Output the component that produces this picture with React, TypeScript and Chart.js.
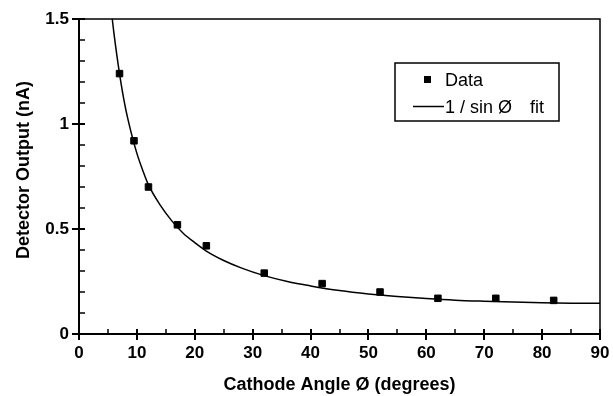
import React, { useEffect, useRef } from "react";
import { Chart, registerables } from "chart.js";

Chart.register(...registerables);

// Measured data points
const dataAngles = [7, 9.5, 12, 17, 22, 32, 42, 52, 62, 72, 82];
const dataOutput = [1.24, 0.92, 0.7, 0.52, 0.42, 0.29, 0.24, 0.2, 0.17, 0.17, 0.16];

// Fit curve
const fitAngles = [5.75, 6, 7, 8, 9, 10, 11, 12, 14, 16, 18, 20, 22, 25, 28, 32, 36, 40, 45, 50, 55, 60, 65, 70, 75, 80, 85, 90];
const fitOutput = [1.5, 1.44, 1.24, 1.08, 0.96, 0.86, 0.78, 0.71, 0.615, 0.54, 0.48, 0.435, 0.395, 0.35, 0.315, 0.278, 0.25, 0.229, 0.207, 0.191, 0.179, 0.169, 0.161, 0.156, 0.152, 0.149, 0.147, 0.146];

const xTickValues = [0, 10, 20, 30, 40, 50, 60, 70, 80, 90];
const yTickValues = [0, 0.5, 1, 1.5];
const xMinorTicks = [5, 15, 25, 35, 45, 55, 65, 75, 85];
const yMinorTicks = [0.1, 0.2, 0.3, 0.4, 0.6, 0.7, 0.8, 0.9, 1.1, 1.2, 1.3, 1.4];

const xTitle = "Cathode Angle Ø (degrees)";
const yTitle = "Detector Output (nA)";
const legendData = "Data";
const legendFit = "1 / sin Ø";
const legendFitSuffix = "fit";

const FONT = "'Liberation Sans', Arial, sans-serif";

const framePlugin = {
  id: "frame",
  afterDraw(chart: any) {
    const { ctx, chartArea: a, scales } = chart;
    const xs = scales.x;
    const ys = scales.y;
    ctx.save();
    ctx.strokeStyle = "#000";
    ctx.lineCap = "butt";
    // top & right frame
    ctx.lineWidth = 1.5;
    ctx.beginPath();
    ctx.moveTo(a.left, a.top);
    ctx.lineTo(a.right, a.top);
    ctx.lineTo(a.right, a.bottom);
    ctx.stroke();
    // axes
    ctx.lineWidth = 2;
    ctx.beginPath();
    ctx.moveTo(a.left, a.top - 1);
    ctx.lineTo(a.left, a.bottom);
    ctx.lineTo(a.right + 1, a.bottom);
    ctx.stroke();
    // major ticks
    ctx.lineWidth = 2;
    ctx.beginPath();
    xTickValues.forEach((v) => {
      const px = Math.round(xs.getPixelForValue(v));
      ctx.moveTo(px, a.bottom - 5);
      ctx.lineTo(px, a.bottom + 6);
    });
    yTickValues.forEach((v) => {
      const py = Math.round(ys.getPixelForValue(v));
      ctx.moveTo(a.left - 7, py);
      ctx.lineTo(a.left + 6, py);
    });
    ctx.stroke();
    // minor ticks
    ctx.lineWidth = 1.5;
    ctx.beginPath();
    xMinorTicks.forEach((v) => {
      const px = Math.round(xs.getPixelForValue(v));
      ctx.moveTo(px, a.bottom);
      ctx.lineTo(px, a.bottom - 5);
    });
    yMinorTicks.forEach((v) => {
      const py = Math.round(ys.getPixelForValue(v));
      ctx.moveTo(a.left, py);
      ctx.lineTo(a.left + 6, py);
    });
    ctx.stroke();

    // axis titles
    ctx.fillStyle = "#000";
    ctx.font = `bold 18px ${FONT}`;
    ctx.textAlign = "center";
    ctx.textBaseline = "alphabetic";
    ctx.fillText(xTitle, (a.left + a.right) / 2, 390);
    ctx.save();
    ctx.translate(29, 170);
    ctx.rotate(-Math.PI / 2);
    ctx.fillText(yTitle, 0, 0);
    ctx.restore();

    // legend
    ctx.lineWidth = 1.5;
    ctx.strokeRect(395, 63, 164, 58);
    ctx.fillRect(424, 76, 7, 7);
    ctx.beginPath();
    ctx.moveTo(413, 106.5);
    ctx.lineTo(444, 106.5);
    ctx.stroke();
    ctx.font = `18px ${FONT}`;
    ctx.textAlign = "left";
    ctx.textBaseline = "alphabetic";
    ctx.fillText(legendData, 445, 86);
    ctx.fillText(legendFit, 445, 113);
    ctx.fillText(legendFitSuffix, 530, 113);
    ctx.restore();
  },
};

export default function App() {
  const ref = useRef<HTMLCanvasElement | null>(null);
  useEffect(() => {
    document.body.style.margin = "0";
    const canvas = ref.current!;
    const chart = new Chart(canvas, {
      type: "scatter",
      data: {
        datasets: [
          {
            label: "fit",
            data: fitAngles.map((x, i) => ({ x, y: fitOutput[i] })),
            showLine: true,
            borderColor: "#000",
            borderWidth: 1.5,
            pointRadius: 0,
            cubicInterpolationMode: "monotone",
            order: 2,
          },
          {
            label: legendData,
            data: dataAngles.map((x, i) => ({ x, y: dataOutput[i] })),
            showLine: false,
            pointStyle: "rect",
            pointRadius: 4.6,
            backgroundColor: "#000",
            borderColor: "#000",
            borderWidth: 1,
            order: 1,
          },
        ],
      },
      options: {
        animation: false,
        responsive: false,
        devicePixelRatio: 1,
        layout: { padding: { top: 19, right: 13, left: 0, bottom: 0 } },
        plugins: { legend: { display: false }, tooltip: { enabled: false } },
        scales: {
          x: {
            type: "linear",
            min: 0,
            max: 90,
            afterFit: (s: any) => {
              s.height = 396 - 19 - 315;
              s.paddingLeft = 0;
              s.paddingRight = 0;
            },
            afterBuildTicks: (s: any) => {
              s.ticks = xTickValues.map((v) => ({ value: v }));
            },
            grid: { display: false, drawTicks: false },
            border: { display: false },
            ticks: {
              color: "#000",
              padding: 9,
              maxRotation: 0,
              font: { family: FONT, size: 17, weight: "bold" },
            },
          },
          y: {
            type: "linear",
            min: 0,
            max: 1.5,
            afterFit: (s: any) => {
              s.width = 79;
              s.paddingTop = 0;
              s.paddingBottom = 0;
            },
            afterBuildTicks: (s: any) => {
              s.ticks = yTickValues.map((v) => ({ value: v }));
            },
            grid: { display: false, drawTicks: false },
            border: { display: false },
            ticks: {
              color: "#000",
              padding: 10,
              font: { family: FONT, size: 17, weight: "bold" },
              callback: (v: any) => String(v),
            },
          },
        },
      },
      plugins: [framePlugin],
    } as any);
    return () => chart.destroy();
  }, []);
  return (
    <div style={{ position: "relative", width: 613, height: 396 }}>
      <canvas ref={ref} width={613} height={396} style={{ display: "block", width: 613, height: 396 }} />
    </div>
  );
}
